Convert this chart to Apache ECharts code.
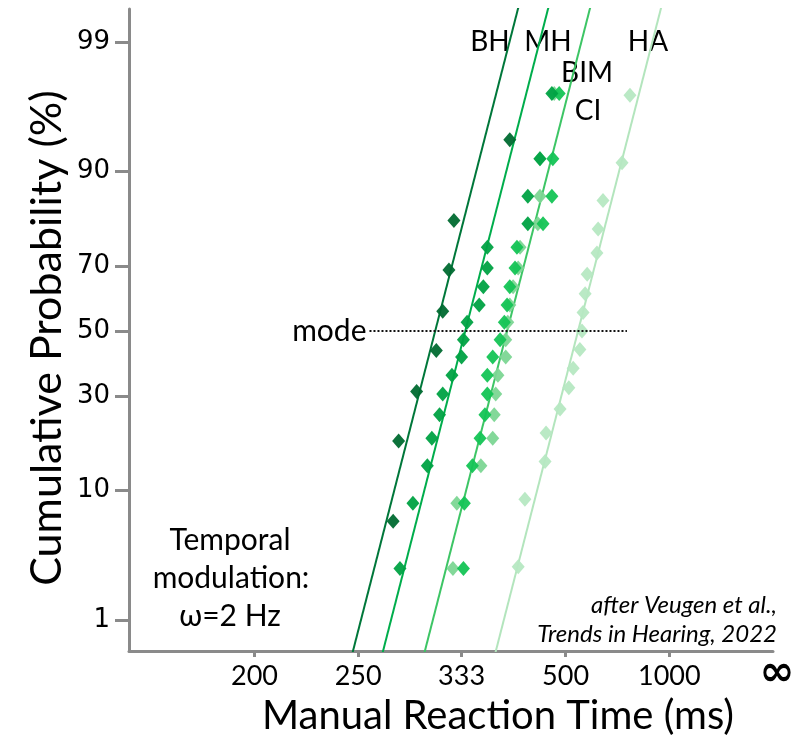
<!DOCTYPE html>
<html>
<head>
<meta charset="utf-8">
<script src="https://cdn.jsdelivr.net/npm/echarts@6/dist/echarts.min.js"></script>
<style>html,body{margin:0;padding:0;background:#fff}#c{width:812px;height:741px}</style>
</head>
<body>
<div id="c"></div>
<script>
// ---------- data ----------
const groups = ['BH', 'MH', 'BIM', 'CI', 'HA'];
// cumulative probability (%) of each sorted reaction time
const pctBH  = [6.3, 18.8, 31.3, 43.8, 56.3, 68.8, 81.3, 93.8];
const pct18  = [2.8, 8.3, 13.9, 19.4, 25.0, 30.6, 36.1, 41.7, 47.2, 52.8, 58.3, 63.9, 69.4, 75.0, 80.6, 86.1, 91.7, 97.2];
const pctHA  = [2.9, 8.8, 14.7, 20.6, 26.5, 32.4, 38.2, 44.1, 50.0, 55.9, 61.8, 67.6, 73.5, 79.4, 85.3, 91.2, 97.1];
// reaction times (ms)
const rtBH  = [273, 277, 291, 308, 314, 320, 325, 394];
const rtMH  = [278, 288, 300, 304, 311, 314, 323, 333, 335, 339, 353, 358, 363, 363, 423, 423, 445, 469];
const rtBIM = [335, 336, 345, 354, 360, 363, 363, 370, 380, 386, 390, 394, 402, 405, 451, 469, 471, 485];
const rtCI  = [324, 328, 355, 370, 372, 374, 377, 388, 388, 391, 394, 399, 407, 410, 441, 445, 445, 474];
const rtHA  = [407, 418, 455, 457, 487, 508, 519, 537, 543, 546, 552, 558, 589, 593, 610, 687, 725];
// reciprobit fit lines: median RT (ms) and spread (promptness 1/s per SD)
const fitNames    = ['BH', 'MH', 'BIM', 'HA'];
const fitMedianRT = [307, 337, 390, 532];
const fitSpread   = [0.308, 0.308, 0.308, 0.308];
// mode reference line (ms)
const modeRT = [257, 710];
// axis ticks
const yTickPct   = [1, 10, 30, 50, 70, 90, 99];
const xTickRT    = [200, 250, 333, 500, 1000, Infinity];
const xTickLabel = ['200', '250', '333', '500', '1000', '∞'];

// ---------- helpers ----------
function probit(p) {
  const a = [-3.969683028665376e+01, 2.209460984245205e+02, -2.759285104469687e+02, 1.383577518672690e+02, -3.066479806614716e+01, 2.506628277459239e+00];
  const b = [-5.447609879822406e+01, 1.615858368580409e+02, -1.556989798598866e+02, 6.680131188771972e+01, -1.328068155288572e+01];
  const c = [-7.784894002430293e-03, -3.223964580411365e-01, -2.400758277161838e+00, -2.549732539343734e+00, 4.374664141464968e+00, 2.938163982698783e+00];
  const d = [7.784695709041462e-03, 3.224671290700398e-01, 2.445134137142996e+00, 3.754408661907416e+00];
  const pl = 0.02425, ph = 1 - pl;
  let q, r;
  if (p < pl) {
    q = Math.sqrt(-2 * Math.log(p));
    return (((((c[0]*q+c[1])*q+c[2])*q+c[3])*q+c[4])*q+c[5]) / ((((d[0]*q+d[1])*q+d[2])*q+d[3])*q+1);
  } else if (p <= ph) {
    q = p - 0.5; r = q * q;
    return (((((a[0]*r+a[1])*r+a[2])*r+a[3])*r+a[4])*r+a[5])*q / (((((b[0]*r+b[1])*r+b[2])*r+b[3])*r+b[4])*r+1);
  } else {
    q = Math.sqrt(-2 * Math.log(1 - p));
    return -(((((c[0]*q+c[1])*q+c[2])*q+c[3])*q+c[4])*q+c[5]) / ((((d[0]*q+d[1])*q+d[2])*q+d[3])*q+1);
  }
}
const X = rt => (rt === Infinity ? 0 : -1000 / rt);   // negative promptness (1/s)
const Y = pct => probit(pct / 100);                  // probit (z)

const pointColors = {BH: '#006a30', MH: '#00a243', BIM: '#14c455', CI: '#7cd694', HA: '#b6e8c2'};
const lineColors  = {BH: '#00773a', MH: '#00ad4c', BIM: '#3dc565', HA: '#b3e5bd'};
const pts = {BH: [rtBH, pctBH], MH: [rtMH, pct18], BIM: [rtBIM, pct18], CI: [rtCI, pct18], HA: [rtHA, pctHA]};

const series = [];
fitNames.forEach((g, i) => {
  const mu = 1000 / fitMedianRT[i], s = fitSpread[i];
  series.push({
    type: 'line', name: g + ' fit', silent: true, showSymbol: false, z: 1,
    data: [[-(mu + 3 * s), -3], [-(mu - 3 * s), 3]],
    lineStyle: {color: lineColors[g], width: 2}
  });
});
const drawOrder = ['HA', 'CI', 'BIM', 'MH', 'BH'];
drawOrder.forEach(g => {
  const [rts, pcs] = pts[g];
  series.push({
    type: 'scatter', name: g, z: 3, symbol: 'diamond', symbolSize: [13, 15],
    itemStyle: {color: pointColors[g], opacity: 0.95},
    data: rts.map((rt, k) => [X(rt), Y(pcs[k])])
  });
});
series.push({
  type: 'line', name: 'mode', silent: true, showSymbol: false, z: 4,
  data: modeRT.map(rt => [X(rt), 0]),
  lineStyle: {color: '#111', width: 2, type: [2, 2]}
});
series.push({
  type: 'scatter', silent: true, z: 4, symbolSize: 0, itemStyle: {opacity: 1},
  data: [[X(modeRT[0]), 0]],
  label: {show: true, position: 'left', distance: 3, formatter: 'mode', opacity: 1,
          fontFamily: 'Lato', fontSize: 30, color: '#000'}
});

const xTickVals = xTickRT.map(X);
const yTickVals = yTickPct.map(Y);
const txt = (text, x, y, font, align) => ({type: 'text', x: x, y: y,
  style: {text: text, font: font, fill: '#000', align: align || 'center', verticalAlign: 'middle'}});

const option = {
  animation: false,
  backgroundColor: '#fff',
  grid: {left: 129, right: 39, top: 9, bottom: 89, containLabel: false},
  xAxis: {
    type: 'value', min: -6.21, max: 0,
    name: 'Manual Reaction Time (ms)', nameLocation: 'middle', nameGap: 45, nameMoveOverlap: false,
    nameTextStyle: {fontFamily: 'Lato', fontSize: 40, color: '#000', padding: [0, 0, 0, 94]},
    axisLine: {show: true, onZero: false, lineStyle: {color: '#8a8a8a', width: 3}},
    axisTick: {show: true, length: 6, customValues: xTickVals.slice(0, 5), lineStyle: {color: '#8a8a8a', width: 3}},
    axisLabel: {
      customValues: xTickVals, margin: 12, fontSize: 27, fontFamily: 'Lato', color: '#000', showMaxLabel: true,
      formatter: v => {
        const i = xTickVals.findIndex(t => Math.abs(t - v) < 1e-6);
        return i === 5 ? '{inf|∞}' : (i >= 0 ? xTickLabel[i] : '');
      },
      rich: {inf: {fontSize: 42, lineHeight: 22, fontWeight: 'bold', fontFamily: 'DejaVu Sans', color: '#000', padding: [0, 0, 0, 8]}}
    },
    splitLine: {show: false}
  },
  yAxis: {
    type: 'value', min: -2.574, max: 2.59,
    name: 'Cumulative Probability (%)', nameLocation: 'middle', nameGap: 60, nameRotate: 90, nameMoveOverlap: false,
    nameTextStyle: {fontFamily: 'Lato', fontSize: 43, color: '#000', padding: [0, 16, 0, 0]},
    axisLine: {show: true, onZero: false, lineStyle: {color: '#8a8a8a', width: 3}},
    axisTick: {show: true, length: 14, customValues: yTickVals, lineStyle: {color: '#8a8a8a', width: 3}},
    axisLabel: {
      customValues: yTickVals, margin: 19, fontFamily: 'DejaVu Sans', fontSize: 26, color: '#000',
      formatter: v => {
        const i = yTickVals.findIndex(t => Math.abs(t - v) < 1e-6);
        return i >= 0 ? String(yTickPct[i]) : '';
      }
    },
    splitLine: {show: false}
  },
  graphic: [
    txt('BH', 490, 42, '28px Lato'),
    txt('MH', 548, 42, '28px Lato'),
    txt('BIM', 587, 73, '28px Lato'),
    txt('CI', 588, 111, '28px Lato'),
    txt('HA', 648, 42, '28px Lato'),
    txt('Temporal', 230, 540, '30px Lato'),
    txt('modulation:', 231, 578, '30px Lato'),
    txt('ω=2 Hz', 230, 616, '30px Lato'),
    txt('after Veugen et al.,', 777, 605, 'italic 24px Lato', 'right'),
    txt('Trends in Hearing, 2022', 777, 634, 'italic 24px Lato', 'right')
  ],
  series: series
};
const chart = echarts.init(document.getElementById('c'), null, {renderer: 'canvas'});
chart.setOption(option);
</script>
</body>
</html>
